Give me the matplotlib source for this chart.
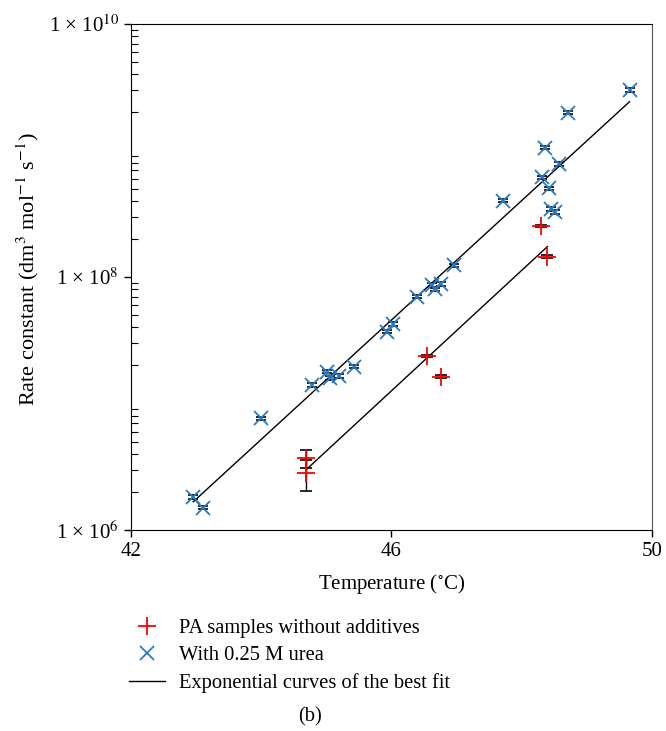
import matplotlib.pyplot as plt
from matplotlib.lines import Line2D

plt.rcParams['font.family'] = ['Liberation Serif', 'DejaVu Serif']
plt.rcParams['mathtext.fontset'] = 'stix'

# with 0.25 M urea
urea_T = [42.95, 43.11, 44.00, 44.78, 45.01, 45.06, 45.20, 45.43, 45.94, 46.03,
          46.39, 46.62, 46.67, 46.76, 46.96, 47.71, 48.32, 48.36, 48.43, 48.46,
          48.51, 48.57, 48.71, 49.66]
urea_k = [1.82e6, 1.50e6, 7.64e6, 1.40e7, 1.78e7, 1.59e7, 1.65e7, 1.95e7, 3.70e7, 4.25e7,
          6.98e7, 8.65e7, 8.00e7, 8.81e7, 1.24e8, 4.01e8, 6.14e8, 1.05e9, 5.02e8, 3.45e8,
          3.27e8, 7.82e8, 1.99e9, 3.01e9]

# PA samples without additives
pa_T = [44.69, 44.69, 46.55, 46.76, 48.30, 48.40]
pa_k = [2.81e6, 3.69e6, 2.37e7, 1.63e7, 2.53e8, 1.45e8]
pa_err = [0.78e6, 0.60e6, 0.6e6, 0.4e6, 6e6, 3e6]

# best fit lines (end points)
fit1_T = [42.96, 49.66]
fit1_k = [1.67e6, 2.43e9]
fit2_T = [44.69, 48.40]
fit2_k = [2.98e6, 1.74e8]

ytick_vals = [1e6, 1e8, 1e10]
ytick_labels = ['1 × 10$^{6}$', '1 × 10$^{8}$', '1 × 10$^{10}$']
xtick_vals = [42, 46, 50]

fig = plt.figure(figsize=(6.66, 7.31), dpi=100)
ax = fig.add_axes([0.1962, 0.2750, 0.7823, 0.6922])

urea_err = [k * 0.03 for k in urea_k]
ax.errorbar(urea_T, urea_k, yerr=urea_err, fmt='none', ecolor='black',
            elinewidth=1, capsize=3.5, capthick=1.2, zorder=2)
ax.errorbar(pa_T, pa_k, yerr=pa_err, fmt='none', ecolor='black',
            elinewidth=1, capsize=4, capthick=1.2, zorder=2)

ax.plot(fit1_T, fit1_k, color='black', lw=1, zorder=3)
ax.plot(fit2_T, fit2_k, color='black', lw=1, zorder=3)

ax.plot(urea_T, urea_k, 'x', color='#2a7ac4', ms=10.5, mew=1.3, zorder=4)
ax.plot(pa_T, pa_k, '+', color='red', ms=12.5, mew=1.3, zorder=4)

ax.set_yscale('log')
ax.set_xlim(42, 50)
ax.set_ylim(1e6, 1e10)
ax.set_yticks(ytick_vals)
ax.set_yticklabels(ytick_labels)
ax.set_xticks(xtick_vals)
ax.tick_params(axis='both', which='major', direction='out', length=5, width=1,
               labelsize=15)
ax.tick_params(axis='y', which='minor', direction='in', length=5, width=0.8)
ax.tick_params(axis='x', which='minor', bottom=False)
ax.spines['right'].set_color('#555555')

ax.set_xlabel(r'Temperature ($^{\circ}$C)', fontsize=15, labelpad=8)
ax.set_ylabel(r'Rate constant (dm$^{3}$ mol$^{-1}$ s$^{-1}$)', fontsize=16)
ax.yaxis.set_label_coords(-0.172, 0.515)

handles = [
    Line2D([], [], marker='+', ls='none', color='red', ms=12.5, mew=1.3),
    Line2D([], [], marker='x', ls='none', color='#2a7ac4', ms=10.5, mew=1.3),
    Line2D([], [], color='black', lw=1),
]
labels = ['PA samples without additives', 'With 0.25 M urea',
          'Exponential curves of the best fit']
fig.legend(handles, labels, loc='upper left', bbox_to_anchor=(0.193, 0.154),
           frameon=False, fontsize=14.8, handlelength=1.75, labelspacing=0.38,
           handletextpad=0.72, borderpad=0, borderaxespad=0)

fig.text(0.465, 0.019, '(b)', fontsize=14.8, ha='center', va='center')

fig.savefig('out.png', dpi=100)
